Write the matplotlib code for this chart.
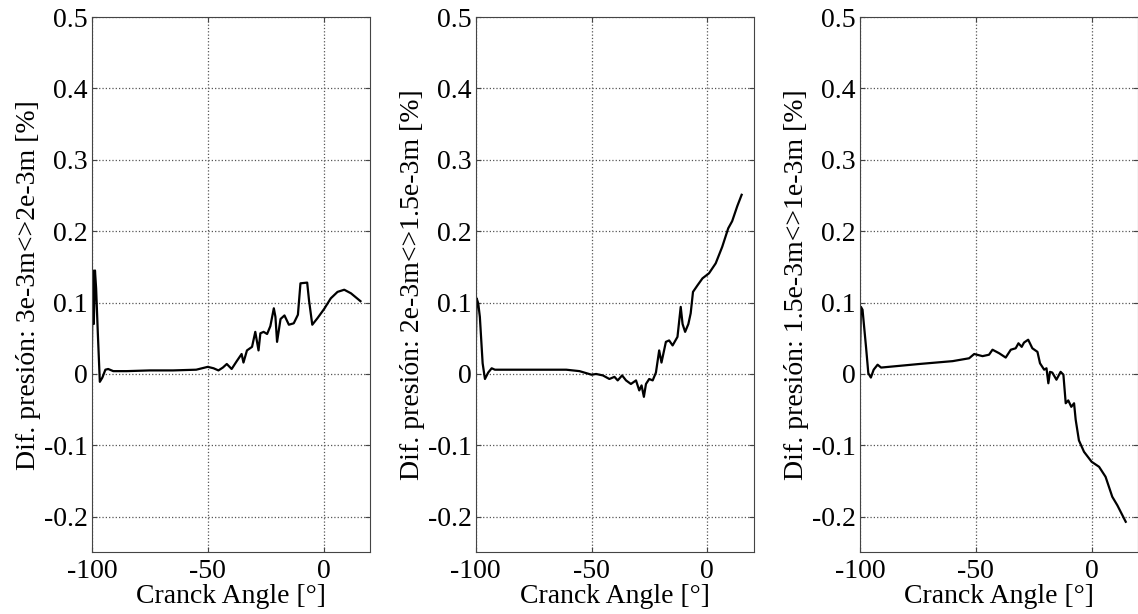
import numpy as np
import matplotlib.pyplot as plt

plt.rcParams['font.family'] = ['Liberation Serif', 'DejaVu Serif']
plt.rcParams['axes.unicode_minus'] = False

# -----------------------------
# Daten
# -----------------------------
x1 = [-100, -99.6, -99.2, -98.7, -98.2, -97.5, -96.6, -95.5, -94.2, -93.0, -90.8, -85, -75, -65,
      -55, -50, -47.5, -45.4, -43.5, -41.8, -39.7, -37.5, -35.4, -34.6, -33.1, -30.9, -29.5,
      -28.1, -27.3, -25.9, -24.4, -23.0, -21.5, -20.8, -20.1, -18.6, -16.9, -15.0, -12.9,
      -11.1, -10.0, -7.1, -6.3, -4.9, -2.7, 0.2, 3.1, 6.0, 8.9, 11.8, 15.9]
y1 = [0.038, 0.145, 0.07, 0.145, 0.12, 0.06, -0.011, -0.005, 0.006, 0.007, 0.004, 0.004, 0.005, 0.005,
      0.006, 0.010, 0.008, 0.005, 0.009, 0.014, 0.007, 0.018, 0.028, 0.016, 0.033, 0.038, 0.059,
      0.033, 0.057, 0.059, 0.056, 0.067, 0.092, 0.080, 0.045, 0.077, 0.082, 0.069, 0.071,
      0.083, 0.127, 0.128, 0.103, 0.069, 0.078, 0.091, 0.106, 0.115, 0.118, 0.113, 0.102]

x2 = [-100, -99.6, -98.9, -98.2, -97.0, -96.0, -94.6, -93.1, -91.7, -80, -70, -60.9, -55.2,
      -50, -48, -45.1, -42.3, -40.1, -38.7, -36.8, -35.1, -33.0, -30.8, -29.4, -28.4, -27.4,
      -26.5, -25.1, -23.6, -22.2, -20.8, -19.8, -17.9, -16.5, -15.0, -12.9, -11.5, -10.7,
      -9.6, -8.2, -7.2, -6.2, -4.3, -2.1, 0.7, 3.6, 6.4, 9.0, 10.7, 12.9, 14.8]
y2 = [0.028, 0.106, 0.099, 0.080, 0.015, -0.007, 0.002, 0.008, 0.006, 0.006, 0.006, 0.006, 0.004,
      -0.001, 0.000, -0.002, -0.007, -0.004, -0.009, -0.002, -0.009, -0.014, -0.009, -0.023, -0.016, -0.032,
      -0.014, -0.007, -0.009, 0.002, 0.033, 0.016, 0.045, 0.047, 0.040, 0.052, 0.094, 0.070,
      0.059, 0.070, 0.085, 0.115, 0.124, 0.134, 0.141, 0.155, 0.178, 0.204, 0.214, 0.235, 0.251]

x3 = [-100, -99.6, -98.9, -97.4, -96.4, -95.3, -94.1, -92.4, -90.9, -74.4, -60.0, -52.9,
      -50.7, -47.1, -44.3, -42.8, -39.9, -37.1, -34.9, -32.8, -31.6, -30.2, -29.2, -27.4,
      -25.6, -23.4, -22.3, -20.5, -19.5, -18.7, -18.0, -17.0, -15.2, -13.4, -12.2, -11.2,
      -10.1, -8.8, -7.6, -6.9, -5.5, -3.3, 0.0, 3.2, 6.0, 8.9, 11.1, 14.7]
y3 = [0.024, 0.094, 0.090, 0.038, 0.001, -0.005, 0.006, 0.013, 0.009, 0.014, 0.018, 0.022,
      0.028, 0.025, 0.027, 0.034, 0.029, 0.023, 0.034, 0.036, 0.043, 0.038, 0.044, 0.048,
      0.036, 0.031, 0.015, 0.006, 0.008, -0.013, 0.003, 0.002, -0.008, 0.003, -0.001, -0.041,
      -0.037, -0.046, -0.041, -0.064, -0.093, -0.109, -0.123, -0.130, -0.144, -0.172, -0.184, -0.207]

series = [(x1, y1), (x2, y2), (x3, y3)]
ylabels = ["Dif. presión: 3e-3m<>2e-3m [%]",
           "Dif. presión: 2e-3m<>1.5e-3m [%]",
           "Dif. presión: 1.5e-3m<>1e-3m [%]"]
xticks = [-100, -50, 0]
yticks = [-0.2, -0.1, 0, 0.1, 0.2, 0.3, 0.4, 0.5]
ytick_labels = ["-0.2", "-0.1", "0", "0.1", "0.2", "0.3", "0.4", "0.5"]

# -----------------------------
# Figure
# -----------------------------
fig = plt.figure(figsize=(11.38, 6.14), dpi=100)
lefts = [0.0808, 0.418, 0.7557]
fs = 20

for left, (xs, ys), lab in zip(lefts, series, ylabels):
    ax = fig.add_axes([left, 0.1002, 0.2443, 0.8721])
    ax.plot(xs, ys, color="black", lw=1.6)
    ax.set_xlim(-100, 20)
    ax.set_ylim(-0.25, 0.5)
    ax.set_xticks(xticks)
    ax.set_yticks(yticks)
    ax.set_yticklabels(ytick_labels)
    ax.grid(True, linestyle=":", color="#555555", lw=0.9)
    ax.tick_params(direction="in", top=True, right=True, labelsize=fs,
                   color="#444444", length=3.5)
    ax.tick_params(axis="x", pad=5)
    ax.tick_params(axis="y", pad=3)
    for sp in ax.spines.values():
        sp.set_color("#444444")
    ax.set_xlabel("Cranck Angle [°]", fontsize=fs, labelpad=0)
    ax.set_ylabel(lab, fontsize=fs, labelpad=2)

fig.savefig("out.png", dpi=100)
